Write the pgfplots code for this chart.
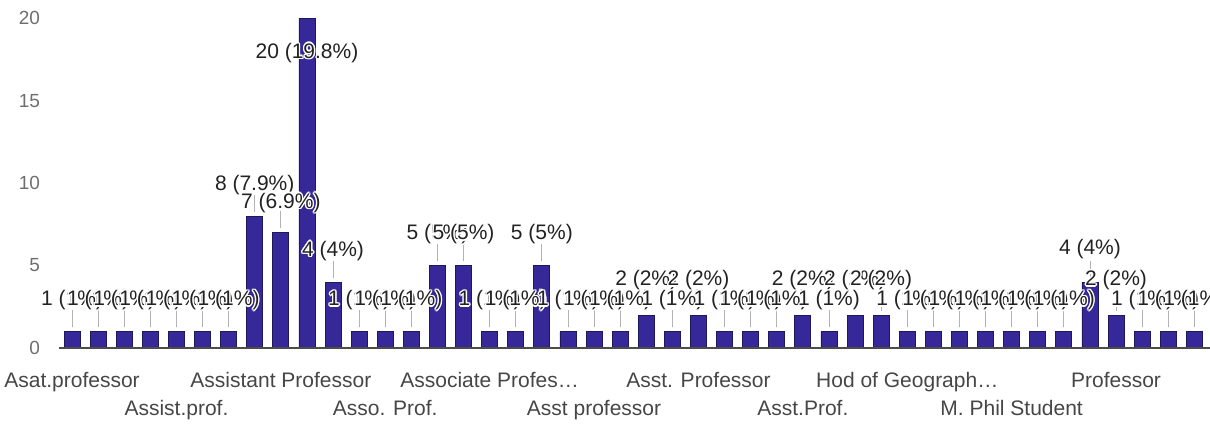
\documentclass[border=0pt]{standalone}
\usepackage{pgfplots}
\pgfplotsset{compat=1.18}
\usepackage{fontspec}
\setmainfont{Liberation Sans}
\definecolor{barc}{RGB}{54,40,152}
\definecolor{bard}{RGB}{30,24,92}
\definecolor{labc}{RGB}{34,34,34}
\definecolor{tickc}{RGB}{70,70,70}
\definecolor{ytickc}{RGB}{110,110,110}
\newcommand\hcopy[3]{\rlap{\hspace*{#1}\raisebox{#2}{\color{white}#3}}}
\newcommand\halo[1]{\hcopy{0.7pt}{0pt}{#1}\hcopy{-0.7pt}{0pt}{#1}\hcopy{0pt}{0.7pt}{#1}\hcopy{0pt}{-0.7pt}{#1}\hcopy{0.5pt}{0.5pt}{#1}\hcopy{-0.5pt}{0.5pt}{#1}\hcopy{0.5pt}{-0.5pt}{#1}\hcopy{-0.5pt}{-0.5pt}{#1}#1}
\pgfplotstableread{
x v
0 1
1 1
2 1
3 1
4 1
5 1
6 1
7 8
8 7
9 20
10 4
11 1
12 1
13 1
14 5
15 5
16 1
17 1
18 5
19 1
20 1
21 1
22 2
23 1
24 2
25 1
26 1
27 1
28 2
29 1
30 2
31 2
32 1
33 1
34 1
35 1
36 1
37 1
38 1
39 4
40 2
41 1
42 1
43 1
}\counts
\pgfplotstableread{
x y0 len
0 1.25 1.05
1 1.25 1.05
2 1.25 1.05
3 1.25 1.05
4 1.25 1.05
5 1.25 1.05
6 1.25 1.05
7 8.25 1.05
8 7.25 1.05
10 4.25 1.05
11 1.25 1.05
12 1.25 1.05
13 1.25 1.05
14 5.25 1.05
15 5.25 1.05
16 1.25 1.05
17 1.25 1.05
18 5.25 1.05
19 1.25 1.05
20 1.25 1.05
21 1.25 1.05
22 2.25 1.05
23 1.25 1.05
24 2.25 1.05
25 1.25 1.05
26 1.25 1.05
27 1.25 1.05
28 2.25 1.05
29 1.25 1.05
30 2.25 1.05
31 2.25 1.05
32 1.25 1.05
33 1.25 1.05
34 1.25 1.05
35 1.25 1.05
36 1.25 1.05
37 1.25 1.05
38 1.25 1.05
39 4.25 1.05
40 2.25 1.05
41 1.25 1.05
42 1.25 1.05
43 1.25 1.05
}\leaders
\begin{document}
\begin{tikzpicture}
\path[use as bounding box] (0,0) rectangle (605pt,211.5pt);
\begin{axis}[
  at={(29.5pt,37.5pt)}, anchor=south west,
  scale only axis, width=575.5pt, height=174pt,
  xmin=-0.5, xmax=43.6, ymin=0, ymax=21.1,
  axis line style={draw=none},
  major tick length=0pt,
  /pgf/number format/assume math mode=true,
  ytick={0,5,10,15,20},
  yticklabel style={font=\fontsize{9.5}{11}\selectfont, text=ytickc, xshift=-6pt},
  xtick={0,8,16,24,32,40},
  xticklabels={Asat.professor, Assistant Professor, Associate Profes…, Asst. Professor, Hod of Geograph…, Professor},
  extra x ticks={4,12,20,28,36},
  extra x tick labels={Assist.prof., Asso. Prof., Asst professor, Asst.Prof., M. Phil Student},
  xticklabel style={font=\fontsize{10.5}{12}\selectfont, text=tickc, yshift=-8.5pt},
  extra x tick style={xticklabel style={yshift=-14pt}},
  clip=false,
]
\addplot[ybar, bar width=8pt, fill=barc, draw=bard, line width=0.4pt] table[x=x, y=v] {\counts};
\addplot[draw=none, mark=none, error bars/.cd, y dir=plus, y explicit, error mark=none,
  error bar style={gray!60, line width=0.4pt}] table[x=x, y=y0, y error=len] {\leaders};
\draw[line width=1.1pt, black!70] (rel axis cs:0,0) -- (rel axis cs:1,0);
\addplot[only marks, mark=*, mark size=0pt, mark options={draw=none, fill=none},
  point meta=explicit symbolic,
  nodes near coords={\halo{\pgfplotspointmeta}},
  every node near coord/.append style={anchor=center, inner sep=0pt, font=\fontsize{10.5}{12}\selectfont, text=labc}]
coordinates {
(0,2.9) [1 (1\%)]
(1,2.9) [1 (1\%)]
(2,2.9) [1 (1\%)]
(3,2.9) [1 (1\%)]
(4,2.9) [1 (1\%)]
(5,2.9) [1 (1\%)]
(6,2.9) [1 (1\%)]
(7,9.9) [8 (7.9\%)]
(8,8.8) [7 (6.9\%)]
(9,17.9) [20 (19.8\%)]
(10,5.9) [4 (4\%)]
(11,2.9) [1 (1\%)]
(12,2.9) [1 (1\%)]
(13,2.9) [1 (1\%)]
(14,6.9) [5 (5\%)]
(15,6.9) [5 (5\%)]
(16,2.9) [1 (1\%)]
(17,2.9) [1 (1\%)]
(18,6.9) [5 (5\%)]
(19,2.9) [1 (1\%)]
(20,2.9) [1 (1\%)]
(21,2.9) [1 (1\%)]
(22,4.1) [2 (2\%)]
(23,2.9) [1 (1\%)]
(24,4.1) [2 (2\%)]
(25,2.9) [1 (1\%)]
(26,2.9) [1 (1\%)]
(27,2.9) [1 (1\%)]
(28,4.1) [2 (2\%)]
(29,2.9) [1 (1\%)]
(30,4.1) [2 (2\%)]
(31,4.1) [2 (2\%)]
(32,2.9) [1 (1\%)]
(33,2.9) [1 (1\%)]
(34,2.9) [1 (1\%)]
(35,2.9) [1 (1\%)]
(36,2.9) [1 (1\%)]
(37,2.9) [1 (1\%)]
(38,2.9) [1 (1\%)]
(39,6.0) [4 (4\%)]
(40,4.1) [2 (2\%)]
(41,2.9) [1 (1\%)]
(42,2.9) [1 (1\%)]
(43,2.9) [1 (1\%)]
};
\end{axis}
\end{tikzpicture}
\end{document}
